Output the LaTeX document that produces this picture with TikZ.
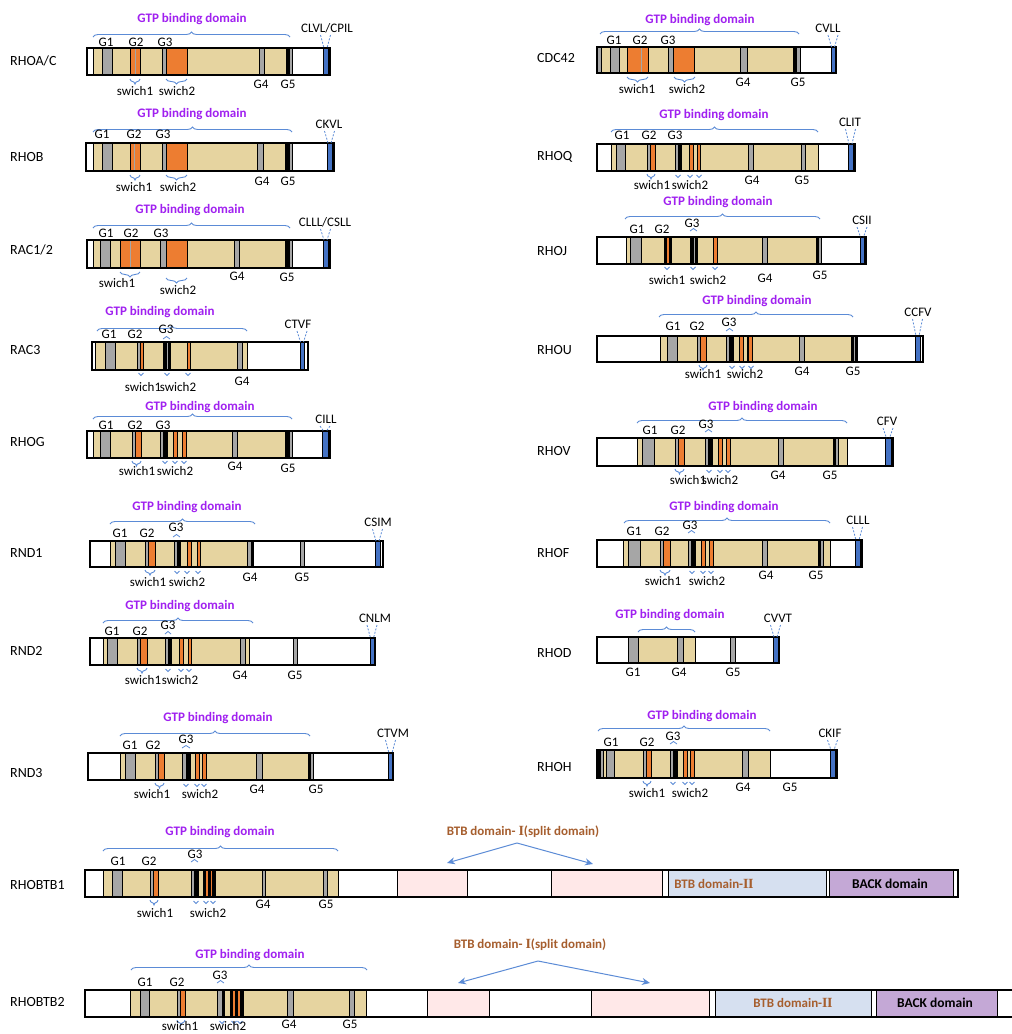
\documentclass[tikz,border=0pt]{standalone}
\usepackage{fontspec}
\setmainfont{Carlito}
\newfontfamily\romf{Liberation Serif}
\usetikzlibrary{decorations.pathreplacing,arrows.meta}
\definecolor{bg}{HTML}{E6D4A0}
\definecolor{gr}{HTML}{A6A6A6}
\definecolor{orn}{HTML}{ED7D31}
\definecolor{bl}{HTML}{4472C4}
\definecolor{brc}{HTML}{5B8BD6}
\definecolor{ppl}{HTML}{A020F0}
\definecolor{btbtxt}{HTML}{A65E2E}
\definecolor{pinkf}{HTML}{FFE8E8}
\definecolor{lbf}{HTML}{D6E0F0}
\definecolor{ppf}{HTML}{C4A8D6}
\newcommand\protein[5]{%
 \foreach \a/\b/\c in {#5}{\filldraw[seg,fill=\c] (\a,#1) rectangle (\b,#2);}
 \draw[frame] (#3,#1) rectangle (#4,#2);}
\newcommand\G[4]{\node[lab] (#1) at (#2,#3) {#4};}
\newcommand\upbr[3]{\draw[brcs] (#1,#3) -- (#2,#3);}
\newcommand\dnbr[3]{\draw[brcs] (#2,#3) -- (#1,#3);}
\newcommand\smup[3]{\draw[tks] (#1,#3) -- (#2,#3);}
\newcommand\tk[2]{\draw[tks] ({#1+2.5},#2) -- ({#1-2.5},#2);}
\newcommand\motif[6]{%
 \node[lab] (#1) at (#3,#4) {#2};
 \draw[mot] ({#5-5},{#4+7}) -- ({#5-1.5},#6);
 \draw[mot] ({#5+5},{#4+7}) -- ({#5+1.5},#6);}
\newcommand\RI{{\romf\bfseries\fontsize{14}{14}\selectfont I}}
\newcommand\RII{{\romf\bfseries\fontsize{14}{14}\selectfont I\kern-0.5pt I}}
\begin{document}
\begin{tikzpicture}[x=1pt,y=-1pt,
 seg/.style={draw=black,line width=0.9pt},
 frame/.style={draw=black,line width=1.8pt},
 brcs/.style={draw=brc,line width=0.9pt,decorate,decoration={brace,amplitude=5pt}},
 tks/.style={draw=brc,line width=0.8pt,decorate,decoration={brace,amplitude=2.5pt}},
 gtp/.style={text=ppl,font=\bfseries\fontsize{13}{15}\selectfont,inner sep=0pt},
 lab/.style={font=\fontsize{13}{15}\selectfont,inner sep=0pt},
 rowl/.style={font=\fontsize{14}{16}\selectfont,anchor=west,inner sep=0pt},
 mot/.style={draw=brc,line width=0.8pt,dash pattern=on 2pt off 1.5pt},
 btb/.style={text=btbtxt,font=\bfseries\fontsize{13}{15}\selectfont,inner sep=0pt},
 arr/.style={draw=brc,line width=1pt,-{Stealth[length=8pt,width=7pt]}}]
\fill[white] (0,0) rectangle (1012,1034);
\useasboundingbox (0,0) rectangle (1012,1034);

% ================= RHOA/C
\node[rowl] (rhoa) at (10,61) {RHOA/C};
\protein{48}{75}{87}{330}{87/93/white,93/102/bg,102/112/gr,112/130/bg,130/140/orn,140/162/bg,162/166/gr,166/187/orn,187/259/bg,259/264/gr,264/286/bg,286/289/black,289/292/gr,292/323/white,323/328/bl}
\draw[gr,line width=1pt] (135,49) -- (135,74);
\upbr{93}{290}{37}
\node[gtp] (rhoa-gtp) at (192,19) {GTP binding domain};
\G{rhoa-g1}{106}{42}{G1}\G{rhoa-g2}{136}{42}{G2}\G{rhoa-g3}{165}{42}{G3}
\G{rhoa-g4}{261}{84}{G4}\G{rhoa-g5}{288}{84}{G5}
\dnbr{130}{140}{79}\dnbr{166}{187}{79}
\G{rhoa-s1}{135}{91}{swich1}\G{rhoa-s2}{177}{91}{swich2}
\motif{rhoa-m}{CLVL/CPIL}{327}{28}{325.5}{48}

% ================= RHOB
\node[rowl] (rhob) at (10,157) {RHOB};
\protein{143}{171}{86}{334}{86/93/white,93/102/bg,102/112/gr,112/130/bg,130/140/orn,140/162/bg,162/166/gr,166/187/orn,187/257/bg,257/263/gr,263/285/bg,285/289/black,289/292/gr,292/327/white,327/332/bl}
\draw[gr,line width=1pt] (134,144) -- (134,170);
\upbr{93}{292}{132}
\node[gtp] (rhob-gtp) at (192,114) {GTP binding domain};
\G{rhob-g1}{102}{134}{G1}\G{rhob-g2}{134}{134}{G2}\G{rhob-g3}{163}{134}{G3}
\G{rhob-g4}{262}{181}{G4}\G{rhob-g5}{288}{181}{G5}
\dnbr{130}{140}{175}\dnbr{166}{187}{175}
\G{rhob-s1}{134}{187}{swich1}\G{rhob-s2}{178}{187}{swich2}
\motif{rhob-m}{CKVL}{329}{124}{329.5}{143}

% ================= RAC1/2
\node[rowl] (rac1) at (10,250) {RAC1/2};
\protein{240}{268}{87}{330}{87/93/white,93/100/bg,100/110/gr,110/120/bg,120/140/orn,140/160/bg,160/166/gr,166/187/orn,187/234/bg,234/239/gr,239/285/bg,285/289/black,289/292/gr,292/323/white,323/328/bl}
\draw[gr,line width=1pt] (130,241) -- (130,267);
\upbr{93}{290}{228}
\node[gtp] (rac1-gtp) at (190,210) {GTP binding domain};
\G{rac1-g1}{106}{233}{G1}\G{rac1-g2}{131}{233}{G2}\G{rac1-g3}{161}{233}{G3}
\G{rac1-g4}{237}{276}{G4}\G{rac1-g5}{287}{277}{G5}
\dnbr{120}{140}{272}\dnbr{166}{187}{278}
\G{rac1-s1}{117}{283}{swich1}\G{rac1-s2}{178}{290}{swich2}
\motif{rac1-m}{CLLL/CSLL}{325}{222}{325.5}{240}

% ================= RAC3
\node[rowl] (rac3) at (10,350) {RAC3};
\protein{342}{370}{92}{308}{92/95/white,95/105/bg,105/115/gr,115/137/bg,137/140/gr,140/143/orn,143/163/bg,163/166/black,166/168/gr,168/170/black,170/187/bg,187/190/orn,190/237/bg,237/242/gr,242/247/bg,247/300/white,300/304/bl}
\upbr{97}{247}{331}
\node[gtp] (rac3-gtp) at (160,312) {GTP binding domain};
\G{rac3-g1}{109}{334}{G1}\G{rac3-g2}{135}{334}{G2}\G{rac3-g3}{166}{329}{G3}
\smup{163}{170}{339}
\tk{141}{373}\tk{167}{373}\tk{188}{373}
\G{rac3-s1}{143}{387}{swich1}\G{rac3-s2}{178}{387}{swich2}
\G{rac3-g4}{242}{381}{G4}
\motif{rac3-m}{CTVF}{298}{324}{302}{342}

% ================= RHOG
\node[rowl] (rhog) at (10,442) {RHOG};
\protein{431}{458}{87}{330}{87/93/white,93/100/bg,100/110/gr,110/132/bg,132/135/gr,135/141/orn,141/160/bg,160/163/gr,163/167/black,167/173/bg,173/177/orn,177/182/bg,182/186/orn,186/232/bg,232/237/gr,237/285/bg,285/289/black,289/292/gr,292/322/white,322/328/bl}
\upbr{93}{292}{419}
\node[gtp] (rhog-gtp) at (200,407) {GTP binding domain};
\G{rhog-g1}{106}{425}{G1}\G{rhog-g2}{135}{425}{G2}\G{rhog-g3}{163}{425}{G3}
\dnbr{132}{141}{461}\tk{165}{461}\tk{175}{461}\tk{184}{461}
\G{rhog-s1}{137}{471}{swich1}\G{rhog-s2}{175}{471}{swich2}
\G{rhog-g4}{235}{466}{G4}\G{rhog-g5}{288}{468}{G5}
\motif{rhog-m}{CILL}{326}{419}{325}{431}

% ================= RND1
\node[rowl] (rnd1) at (10,553) {RND1};
\protein{541}{567}{90}{383}{90/110/white,110/115/bg,115/125/gr,125/145/bg,145/148/gr,148/155/orn,155/174/bg,174/177/gr,177/180/black,180/187/bg,187/191/orn,191/197/bg,197/200/orn,200/247/bg,247/251/gr,251/253/black,253/300/white,300/304/gr,304/375/white,375/380/bl}
\upbr{110}{255}{524}
\node[gtp] (rnd1-gtp) at (187,507) {GTP binding domain};
\G{rnd1-g1}{120}{533}{G1}\G{rnd1-g2}{147}{533}{G2}\G{rnd1-g3}{176}{527}{G3}
\smup{173}{180}{537}
\dnbr{145}{155}{570}\tk{177}{571}\tk{187}{571}\tk{198}{571}
\G{rnd1-s1}{148}{582}{swich1}\G{rnd1-s2}{187}{582}{swich2}
\G{rnd1-g4}{250}{577}{G4}\G{rnd1-g5}{302}{577}{G5}
\motif{rnd1-m}{CSIM}{378}{522}{377.5}{541}

% ================= RND2
\node[rowl] (rnd2) at (10,651) {RND2};
\protein{638}{665}{90}{375}{90/103/white,103/107/bg,107/117/gr,117/137/bg,137/140/gr,140/147/orn,147/165/bg,165/168/gr,168/171/black,171/179/bg,179/183/orn,183/188/bg,188/191/orn,191/240/bg,240/245/gr,245/249/bg,249/293/white,293/297/gr,297/370/white,370/374/bl}
\upbr{103}{253}{623}
\node[gtp] (rnd2-gtp) at (180,606) {GTP binding domain};
\G{rnd2-g1}{112}{631}{G1}\G{rnd2-g2}{140}{631}{G2}\G{rnd2-g3}{168}{625}{G3}
\smup{165}{171}{634}
\dnbr{137}{147}{668}\tk{168}{669}\tk{181}{669}\tk{189}{669}
\G{rnd2-s1}{143}{680}{swich1}\G{rnd2-s2}{180}{680}{swich2}
\G{rnd2-g4}{240}{675}{G4}\G{rnd2-g5}{295}{675}{G5}
\motif{rnd2-m}{CNLM}{375}{618}{372}{638}

% ================= RND3
\node[rowl] (rnd3) at (10,773) {RND3};
\protein{753}{780}{88}{393}{88/120/white,120/125/bg,125/135/gr,135/155/bg,155/158/gr,158/164/orn,164/182/bg,182/186/gr,186/190/black,190/195/bg,195/199/orn,199/202/bg,202/206/orn,206/256/bg,256/262/gr,262/308/bg,308/310/black,310/313/gr,313/388/white,388/393/bl}
\upbr{120}{310}{736}
\node[gtp] (rnd3-gtp) at (218,718) {GTP binding domain};
\G{rnd3-g1}{130}{745}{G1}\G{rnd3-g2}{153}{745}{G2}\G{rnd3-g3}{186}{739}{G3}
\smup{182}{190}{748}
\dnbr{155}{164}{783}\tk{186}{784}\tk{197}{784}\tk{204}{784}
\G{rnd3-s1}{152}{794}{swich1}\G{rnd3-s2}{200}{794}{swich2}
\G{rnd3-g4}{257}{789}{G4}\G{rnd3-g5}{316}{789}{G5}
\motif{rnd3-m}{CTVM}{393}{733}{390.5}{753}

% ================= RHOBTB1
\node[rowl] (btb1) at (10,885) {RHOBTB1};
\protein{870}{897}{85}{958}{85/103/white,103/112/bg,112/122/gr,122/150/bg,150/153/gr,153/158/orn,158/191/bg,191/194/gr,194/198/black,198/203/bg,203/205/black,205/208/orn,208/210/black,210/212/orn,212/215/black,215/262/bg,262/265/gr,265/323/bg,323/327/gr,327/338/bg,338/397/white,397/467/pinkf,467/551/white,551/662/pinkf,662/668/white,668/826/lbf,826/829/white,829/953/ppf,953/958/white}
\upbr{103}{338}{851}
\node[gtp] (btb1-gtp) at (220,832) {GTP binding domain};
\G{btb1-g1}{118}{861}{G1}\G{btb1-g2}{149}{861}{G2}\G{btb1-g3}{195}{854}{G3}
\smup{191}{198}{862}
\dnbr{150}{158}{900}\tk{196}{901}\tk{206}{901}\tk{213}{901}
\G{btb1-s1}{155}{913}{swich1}\G{btb1-s2}{208}{913}{swich2}
\G{btb1-g4}{263}{904}{G4}\G{btb1-g5}{326}{904}{G5}
\node[btb] (btb1-d1) at (523,832) {BTB domain- \RI(split domain)};
\coordinate (btb1-ap) at (517,843);
\coordinate (btb1-t1) at (447,863);
\coordinate (btb1-t2) at (593,864);
\draw[arr] (btb1-ap) -- (btb1-t1);
\draw[arr] (btb1-ap) -- (btb1-t2);
\node[btb] (btb1-d2) at (714,884) {BTB domain-\RII};
\node[btb,text=black,font=\bfseries\fontsize{13.5}{15}\selectfont] (btb1-back) at (890,884) {BACK domain};

% ================= RHOBTB2
\node[rowl] (btb2) at (10,1002) {RHOBTB2};
\protein{990}{1017}{85}{1020}{85/130/white,130/140/bg,140/149/gr,149/177/bg,177/180/gr,180/185/orn,185/217/bg,217/222/gr,222/224/black,224/230/bg,230/232/black,232/235/orn,235/237/black,237/240/orn,240/243/black,243/287/bg,287/293/gr,293/349/bg,349/354/gr,354/366/bg,366/427/white,427/489/pinkf,489/591/white,591/709/pinkf,709/715/white,715/871/lbf,871/876/white,876/997/ppf,997/1020/white}
\upbr{131}{367}{970}
\node[gtp] (btb2-gtp) at (250,955) {GTP binding domain};
\G{btb2-g1}{145}{982}{G1}\G{btb2-g2}{177}{982}{G2}\G{btb2-g3}{220}{975}{G3}
\smup{217}{224}{983}
\dnbr{177}{185}{1020}\tk{222}{1021}\tk{234}{1021}\tk{240}{1021}
\G{btb2-s1}{180}{1026.5}{swich1}\G{btb2-s2}{228}{1026.5}{swich2}
\G{btb2-g4}{289}{1024}{G4}\G{btb2-g5}{350}{1024}{G5}
\node[btb] (btb2-d1) at (530,945) {BTB domain- \RI(split domain)};
\coordinate (btb2-ap) at (538,961);
\coordinate (btb2-t1) at (458,983);
\coordinate (btb2-t2) at (650,983);
\draw[arr] (btb2-ap) -- (btb2-t1);
\draw[arr] (btb2-ap) -- (btb2-t2);
\node[btb] (btb2-d2) at (793,1003) {BTB domain-\RII};
\node[btb,text=black,font=\bfseries\fontsize{13.5}{15}\selectfont] (btb2-back) at (935,1003) {BACK domain};

% ================= CDC42
\node[rowl] (cdc) at (537,58) {CDC42};
\protein{47}{73}{597}{836}{597/601/gr,601/610/bg,610/619/gr,619/627/bg,627/648/orn,648/668/bg,668/673/gr,673/694/orn,694/740/bg,740/747/gr,747/793/bg,793/796/black,796/800/gr,800/831/white,831/835/bl}
\draw[gr,line width=1pt] (641,48) -- (641,72);
\upbr{600}{799}{34}
\node[gtp] (cdc-gtp) at (700,20) {GTP binding domain};
\G{cdc-g1}{614}{40}{G1}\G{cdc-g2}{640}{40}{G2}\G{cdc-g3}{668}{40}{G3}
\dnbr{627}{648}{77}\dnbr{674}{695}{77}
\G{cdc-s1}{637}{89}{swich1}\G{cdc-s2}{687}{89}{swich2}
\G{cdc-g4}{743}{82}{G4}\G{cdc-g5}{798}{82}{G5}
\motif{cdc-m}{CVLL}{828}{28}{833}{47}

% ================= RHOQ
\node[rowl] (rhoq) at (537,157) {RHOQ};
\protein{144}{171}{597}{855}{597/611/white,611/616/bg,616/625/gr,625/647/bg,647/650/gr,650/655/orn,655/675/bg,675/678/gr,678/681/black,681/689/bg,689/693/orn,693/697/bg,697/700/orn,700/748/bg,748/753/gr,753/801/bg,801/805/gr,805/818/bg,818/848/white,848/853/bl}
\upbr{611}{818}{132}
\node[gtp] (rhoq-gtp) at (714,115) {GTP binding domain};
\G{rhoq-g1}{622}{135}{G1}\G{rhoq-g2}{649}{135}{G2}\G{rhoq-g3}{675}{135}{G3}
\dnbr{647}{655}{174}\tk{678}{175}\tk{690}{175}\tk{699}{175}
\G{rhoq-s1}{652}{185}{swich1}\G{rhoq-s2}{690}{185}{swich2}
\G{rhoq-g4}{752}{180}{G4}\G{rhoq-g5}{802}{180}{G5}
\motif{rhoq-m}{CLIT}{850}{122}{850.5}{144}

% ================= RHOJ
\node[rowl] (rhoj) at (537,251) {RHOJ};
\protein{237}{264}{597}{866}{597/626/white,626/630/bg,630/641/gr,641/664/bg,664/666/black,666/669/orn,669/671/black,671/690/bg,690/693/black,693/695/gr,695/697/black,697/713/bg,713/717/orn,717/762/bg,762/767/gr,767/816/bg,816/818/black,818/821/gr,821/860/white,860/864/bl}
\upbr{625}{820}{219}
\node[gtp] (rhoj-gtp) at (718,202) {GTP binding domain};
\G{rhoj-g1}{637}{229}{G1}\G{rhoj-g2}{662}{229}{G2}\G{rhoj-g3}{692}{223}{G3}
\smup{690}{697}{231}
\tk{667}{267}\tk{693}{267}\tk{715}{267}
\G{rhoj-s1}{667}{280}{swich1}\G{rhoj-s2}{708}{280}{swich2}
\G{rhoj-g4}{765}{278}{G4}\G{rhoj-g5}{820}{275}{G5}
\motif{rhoj-m}{CSII}{862}{220}{862}{237}

% ================= RHOU
\node[rowl] (rhou) at (537,350) {RHOU};
\protein{336}{362}{597}{923}{597/660/white,660/667/bg,667/677/gr,677/697/bg,697/700/gr,700/706/orn,706/726/bg,726/729/gr,729/733/black,733/739/bg,739/743/orn,743/747/bg,747/748/black,748/752/orn,752/799/bg,799/804/gr,804/851/bg,851/853/black,853/855/gr,855/857/black,857/915/white,915/920/bl}
\upbr{659}{853}{317}
\node[gtp] (rhou-gtp) at (757,301) {GTP binding domain};
\G{rhou-g1}{673}{326}{G1}\G{rhou-g2}{697}{326}{G2}\G{rhou-g3}{729}{322}{G3}
\smup{726}{733}{331}
\dnbr{699}{707}{365}\tk{732}{366}\tk{742}{366}\tk{751}{366}
\G{rhou-s1}{703}{374}{swich1}\G{rhou-s2}{745}{374}{swich2}
\G{rhou-g4}{802}{371}{G4}\G{rhou-g5}{853}{371}{G5}
\motif{rhou-m}{CCFV}{918}{312}{917.5}{336}

% ================= RHOV
\node[rowl] (rhov) at (537,451) {RHOV};
\protein{438}{466}{597}{893}{597/637/white,637/642/bg,642/654/gr,654/675/bg,675/678/gr,678/684/orn,684/705/bg,705/708/gr,708/712/black,712/718/bg,718/722/orn,722/726/bg,726/730/orn,730/778/bg,778/783/gr,783/833/bg,833/835/black,835/838/gr,838/847/bg,847/885/white,885/891/bl}
\upbr{637}{847}{423}
\node[gtp] (rhov-gtp) at (763,407) {GTP binding domain};
\G{rhov-g1}{650}{430}{G1}\G{rhov-g2}{678}{430}{G2}\G{rhov-g3}{706}{424}{G3}
\smup{705}{712}{432}
\dnbr{675}{684}{469}\tk{709}{470}\tk{720}{470}\tk{728}{470}
\G{rhov-s1}{688}{480}{swich1}\G{rhov-s2}{720}{480}{swich2}
\G{rhov-g4}{778}{475}{G4}\G{rhov-g5}{830}{475}{G5}
\motif{rhov-m}{CFV}{887}{421}{888}{438}

% ================= RHOF
\node[rowl] (rhof) at (537,553) {RHOF};
\protein{540}{567}{597}{862}{597/623/white,623/628/bg,628/640/gr,640/660/bg,660/663/gr,663/670/orn,670/688/bg,688/691/gr,691/695/black,695/701/bg,701/705/orn,705/709/bg,709/713/orn,713/762/bg,762/767/gr,767/818/bg,818/820/black,820/823/gr,823/830/bg,830/855/white,855/860/bl}
\upbr{624}{830}{523}
\node[gtp] (rhof-gtp) at (724,507) {GTP binding domain};
\G{rhof-g1}{634}{531}{G1}\G{rhof-g2}{662}{531}{G2}\G{rhof-g3}{690}{525}{G3}
\smup{688}{695}{533}
\dnbr{660}{670}{570}\tk{692}{571}\tk{703}{571}\tk{711}{571}
\G{rhof-s1}{663}{581}{swich1}\G{rhof-s2}{707}{581}{swich2}
\G{rhof-g4}{766}{575}{G4}\G{rhof-g5}{816}{575}{G5}
\motif{rhof-m}{CLLL}{858}{520}{857.5}{540}

% ================= RHOD
\node[rowl] (rhod) at (537,653) {RHOD};
\protein{637}{663}{597}{779}{597/628/white,628/638/gr,638/677/bg,677/683/gr,683/695/bg,695/730/white,730/735/gr,735/773/white,773/778/bl}
\upbr{638}{695}{632}
\node[gtp] (rhod-gtp) at (670,615) {GTP binding domain};
\G{rhod-g1}{633}{672}{G1}\G{rhod-g4}{679}{672}{G4}\G{rhod-g5}{733}{672}{G5}
\motif{rhod-m}{CVVT}{778}{618}{775.5}{637}

% ================= RHOH
\node[rowl] (rhoh) at (537,767) {RHOH};
\protein{750}{778}{597}{837}{597/600/black,600/603/gr,603/606/bg,606/614/gr,614/643/bg,643/646/gr,646/651/orn,651/670/bg,670/673/gr,673/677/black,677/683/bg,683/687/orn,687/690/bg,690/694/orn,694/742/bg,742/748/gr,748/770/bg,770/830/white,830/835/bl}
\upbr{598}{770}{731}
\node[gtp] (rhoh-gtp) at (702,716) {GTP binding domain};
\G{rhoh-g1}{611}{742}{G1}\G{rhoh-g2}{647}{742}{G2}\G{rhoh-g3}{673}{736}{G3}
\smup{670}{677}{744}
\dnbr{643}{651}{781}\tk{673}{782}\tk{685}{782}\tk{692}{782}
\G{rhoh-s1}{647}{793}{swich1}\G{rhoh-s2}{690}{793}{swich2}
\G{rhoh-g4}{743}{787}{G4}\G{rhoh-g5}{790}{787}{G5}
\motif{rhoh-m}{CKIF}{830}{733}{832.5}{750}
\end{tikzpicture}
\end{document}
